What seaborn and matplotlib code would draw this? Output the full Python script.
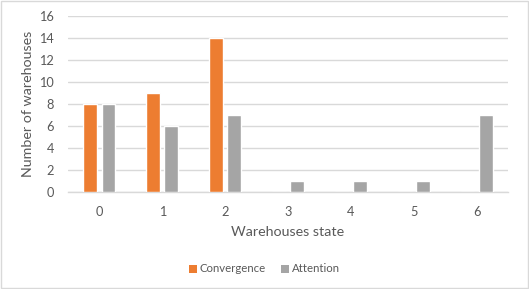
import matplotlib
matplotlib.use("Agg")
import matplotlib.pyplot as plt
import seaborn as sns
import pandas as pd
from matplotlib.patches import Rectangle, Patch

states = ["0", "1", "2", "3", "4", "5", "6"]
convergence = [8, 9, 14, 0, 0, 0, 0]
attention = [8, 6, 7, 1, 1, 1, 7]
series_names = ["Convergence", "Attention"]
colors = ["#ED7D31", "#A5A5A5"]
yticks = [0, 2, 4, 6, 8, 10, 12, 14, 16]

df = pd.DataFrame({
    "state": states * 2,
    "value": convergence + attention,
    "series": [series_names[0]] * len(states) + [series_names[1]] * len(states),
})

sns.set_theme(style="white")
plt.rcParams["font.family"] = ["Lato", "DejaVu Sans"]
text_color = "#595959"
grid_color = "#D9D9D9"

fig = plt.figure(figsize=(5.29, 2.89), dpi=100)
ax = fig.add_axes([68 / 529, 1 - 192 / 289, 440 / 529, 176 / 289])

sns.barplot(data=df, x="state", y="value", hue="series", order=states,
            hue_order=series_names, palette=colors, width=0.58, gap=0.24,
            saturation=1, ax=ax, legend=False, zorder=3)

ax.set_ylim(0, 16)
ax.set_xlim(-0.5, 6.5)
ax.set_yticks(yticks)
ax.yaxis.grid(True, color=grid_color, linewidth=1, zorder=0)
ax.set_axisbelow(True)
for s in ["top", "right", "left"]:
    ax.spines[s].set_visible(False)
ax.spines["bottom"].set_color(grid_color)
ax.spines["bottom"].set_linewidth(1)
ax.tick_params(axis="both", length=0, labelsize=9.2, colors=text_color)
ax.tick_params(axis="x", pad=10)
ax.tick_params(axis="y", pad=10)
ax.set_xlabel("Warehouses state", fontsize=10.3, color=text_color, labelpad=6)
ax.set_ylabel("Number of warehouses", fontsize=10.3, color=text_color, labelpad=4)

handles = [Patch(facecolor=c, edgecolor="none") for c in colors]
fig.legend(handles, series_names, loc="center", bbox_to_anchor=(0.5, 1 - 269 / 289),
           ncol=2, frameon=False, fontsize=8.2, labelcolor=text_color,
           handlelength=0.7, handleheight=0.7, handletextpad=0.3, columnspacing=1.3)

fig.patches.append(Rectangle((0.001, 0.002), 0.997, 0.995, transform=fig.transFigure,
                             fill=False, edgecolor=grid_color, linewidth=1))

fig.savefig("out.png", dpi=100)
